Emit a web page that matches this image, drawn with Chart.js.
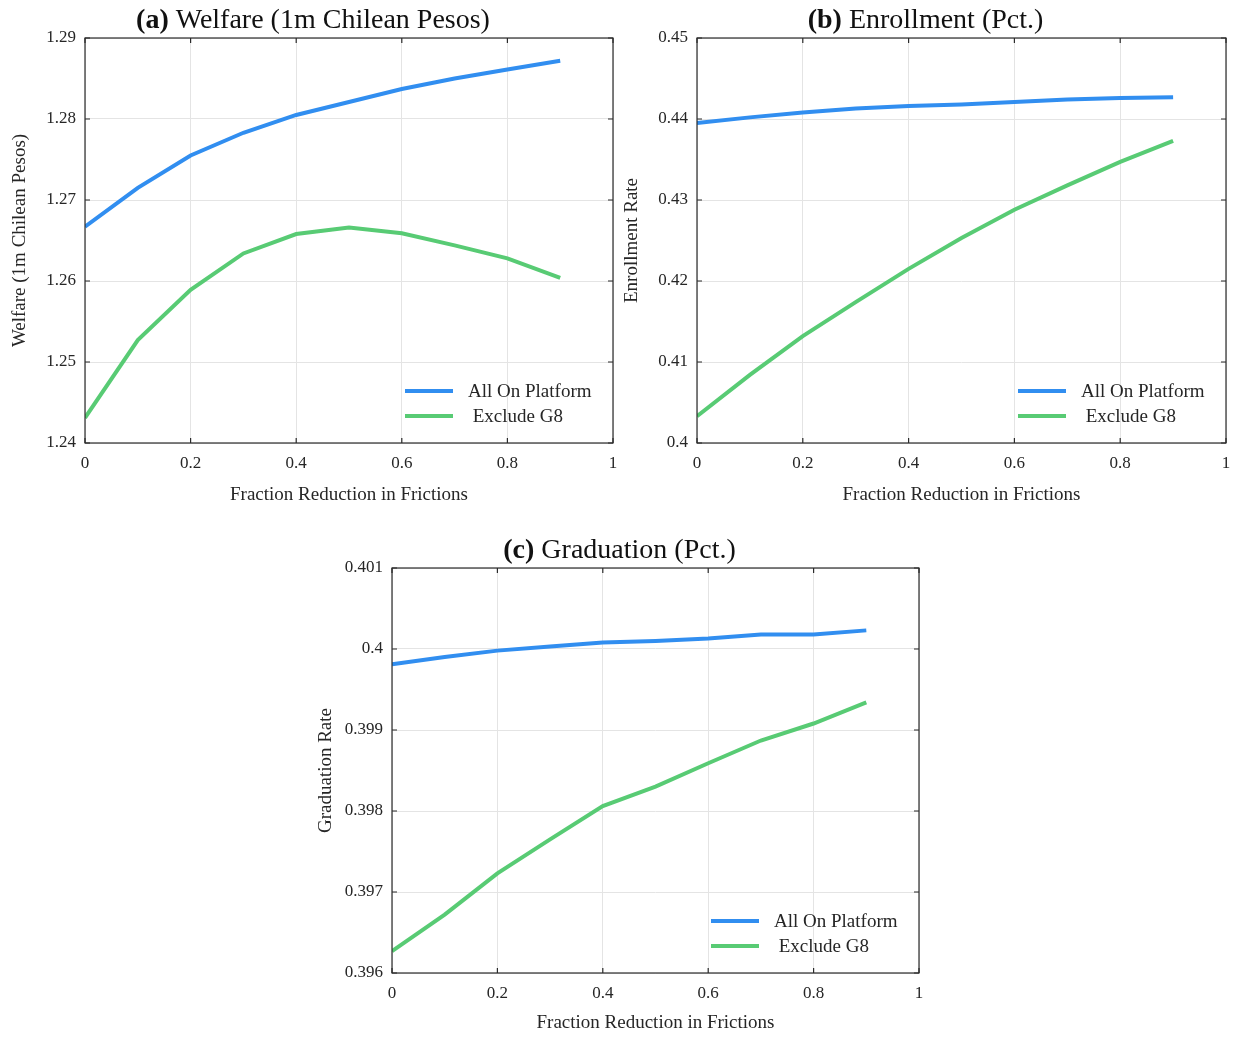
<!DOCTYPE html>
<html>
<head>
<meta charset="utf-8">
<script src="https://cdn.jsdelivr.net/npm/chart.js@4"></script>
<style>
  body { margin:0; background:#fff; }
  .panel { position:absolute; }
</style>
</head>
<body>
<div class="panel" style="left:0;top:0;width:620px;height:510px"><canvas id="welfareChart"></canvas></div>
<div class="panel" style="left:620px;top:0;width:619px;height:510px"><canvas id="enrollChart"></canvas></div>
<div class="panel" style="left:300px;top:530px;width:640px;height:508px"><canvas id="gradChart"></canvas></div>
<script>
// ---- data ----
const FRACTION = [0, 0.1, 0.2, 0.3, 0.4, 0.5, 0.6, 0.7, 0.8, 0.9];
const SERIES_LABELS = ['All On Platform', ' Exclude G8'];
const X_TICKS = [0, 0.2, 0.4, 0.6, 0.8, 1];

const WELFARE_ALL  = [1.2667, 1.2715, 1.2755, 1.2783, 1.2805, 1.2821, 1.2837, 1.2850, 1.2861, 1.2872];
const WELFARE_EXCL = [1.2431, 1.2527, 1.2589, 1.2634, 1.2658, 1.2666, 1.2659, 1.2644, 1.2628, 1.2604];
const WELFARE_TICKS = [1.24, 1.25, 1.26, 1.27, 1.28, 1.29];

const ENROLL_ALL  = [0.4395, 0.4402, 0.4408, 0.4413, 0.4416, 0.4418, 0.4421, 0.4424, 0.4426, 0.4427];
const ENROLL_EXCL = [0.4033, 0.4084, 0.4132, 0.4174, 0.4215, 0.4253, 0.4288, 0.4318, 0.4347, 0.4373];
const ENROLL_TICKS = [0.40, 0.41, 0.42, 0.43, 0.44, 0.45];

const GRAD_ALL  = [0.39981, 0.39990, 0.39998, 0.40003, 0.40008, 0.40010, 0.40013, 0.40018, 0.40018, 0.40023];
const GRAD_EXCL = [0.39627, 0.39672, 0.39723, 0.39765, 0.39806, 0.39830, 0.39859, 0.39887, 0.39908, 0.39934];
const GRAD_TICKS = [0.396, 0.397, 0.398, 0.399, 0.400, 0.401];

const BLUE = '#318ef0';
const GREEN = '#58cb74';
const INK = '#262626';
const FONT = "'Liberation Serif', serif";

// box round the plot with short inward ticks (matlab style)
const framePlugin = {
  id: 'frame',
  afterDraw(chart) {
    const { ctx, chartArea: a, scales } = chart;
    ctx.save();
    ctx.strokeStyle = '#2b2b2b';
    ctx.lineWidth = 1.2;
    ctx.strokeRect(a.left, a.top, a.right - a.left, a.bottom - a.top);
    ctx.beginPath();
    scales.x.ticks.forEach(t => {
      const px = scales.x.getPixelForValue(t.value);
      ctx.moveTo(px, a.bottom); ctx.lineTo(px, a.bottom - 5);
      ctx.moveTo(px, a.top); ctx.lineTo(px, a.top + 5);
    });
    scales.y.ticks.forEach(t => {
      const py = scales.y.getPixelForValue(t.value);
      ctx.moveTo(a.left, py); ctx.lineTo(a.left + 5, py);
      ctx.moveTo(a.right, py); ctx.lineTo(a.right - 5, py);
    });
    ctx.stroke();
    ctx.restore();
  }
};

// title with bold panel letter
const titlePlugin = {
  id: 'panelTitle',
  afterDraw(chart, args, opts) {
    const { ctx, chartArea: a } = chart;
    ctx.save();
    ctx.fillStyle = '#111';
    ctx.textBaseline = 'middle';
    ctx.font = `bold 28px ${FONT}`;
    const w1 = ctx.measureText(opts.tag + ' ').width;
    ctx.font = `28px ${FONT}`;
    const w2 = ctx.measureText(opts.text).width;
    let x = (a.left + a.right) / 2 - 36 - (w1 + w2) / 2;
    ctx.textAlign = 'left';
    ctx.font = `bold 28px ${FONT}`;
    ctx.fillText(opts.tag + ' ', x, 21);
    ctx.font = `28px ${FONT}`;
    ctx.fillText(opts.text, x + w1, 21);
    ctx.restore();
  }
};

// legend drawn inside lower right corner, no box
const legendPlugin = {
  id: 'cornerLegend',
  afterDraw(chart) {
    const { ctx, chartArea: a } = chart;
    ctx.save();
    ctx.font = `19px ${FONT}`;
    ctx.textBaseline = 'middle';
    ctx.fillStyle = INK;
    chart.data.datasets.forEach((ds, i) => {
      const y = a.bottom - 52 + i * 25;
      ctx.strokeStyle = ds.borderColor;
      ctx.lineWidth = 4;
      ctx.beginPath();
      ctx.moveTo(a.right - 208, y); ctx.lineTo(a.right - 160, y);
      ctx.stroke();
      ctx.fillText(ds.label, a.right - 145, y + 1);
    });
    ctx.restore();
  }
};

function makePanel(id, opts) {
  const ctx = document.getElementById(id).getContext('2d');
  const pts = arr => FRACTION.map((f, i) => ({ x: f, y: arr[i] }));
  return new Chart(ctx, {
    type: 'line',
    data: {
      datasets: [
        { label: SERIES_LABELS[0], data: pts(opts.all), borderColor: BLUE, borderWidth: 4, pointRadius: 0, tension: 0 },
        { label: SERIES_LABELS[1], data: pts(opts.excl), borderColor: GREEN, borderWidth: 4, pointRadius: 0, tension: 0 }
      ]
    },
    options: {
      responsive: true,
      maintainAspectRatio: false,
      animation: false,
      layout: { padding: { top: 38, right: opts.padRight, bottom: 0, left: 0 } },
      plugins: {
        legend: { display: false },
        tooltip: { enabled: false },
        panelTitle: { tag: opts.tag, text: opts.title }
      },
      scales: {
        x: {
          type: 'linear', min: 0, max: 1,
          afterBuildTicks: s => { s.ticks = X_TICKS.map(v => ({ value: v })); },
          afterFit: s => { s.height = opts.xHeight; s.paddingLeft = 0; s.paddingRight = 0; },
          grid: { color: '#e4e4e4', drawTicks: false },
          border: { display: false },
          ticks: { color: INK, font: { family: FONT, size: 17 }, padding: 10, maxRotation: 0,
                   callback: v => String(+v.toFixed(3)) },
          title: { display: true, text: 'Fraction Reduction in Frictions', color: INK,
                   font: { family: FONT, size: 19 }, padding: { bottom: 3.5 } }
        },
        y: {
          type: 'linear', min: opts.ticks[0], max: opts.ticks[opts.ticks.length - 1],
          afterBuildTicks: s => { s.ticks = opts.ticks.map(v => ({ value: v })); },
          afterFit: s => { s.width = opts.yWidth; s.paddingTop = 0; s.paddingBottom = 0; },
          grid: { color: '#e4e4e4', drawTicks: false },
          border: { display: false },
          ticks: { color: INK, font: { family: FONT, size: 17 }, padding: 9,
                   callback: v => String(+v.toFixed(3)) },
          title: { display: true, text: opts.yTitle, color: INK,
                   font: { family: FONT, size: 19 }, padding: { top: opts.yTitlePad } }
        }
      }
    },
    plugins: [framePlugin, titlePlugin, legendPlugin]
  });
}

makePanel('welfareChart', {
  all: WELFARE_ALL, excl: WELFARE_EXCL, ticks: WELFARE_TICKS,
  tag: '(a)', title: 'Welfare (1m Chilean Pesos)', yTitle: 'Welfare (1m Chilean Pesos)',
  yWidth: 85, padRight: 7, xHeight: 67, yTitlePad: 9
});
makePanel('enrollChart', {
  all: ENROLL_ALL, excl: ENROLL_EXCL, ticks: ENROLL_TICKS,
  tag: '(b)', title: 'Enrollment (Pct.)', yTitle: 'Enrollment Rate',
  yWidth: 77, padRight: 13, xHeight: 67, yTitlePad: 1
});
makePanel('gradChart', {
  all: GRAD_ALL, excl: GRAD_EXCL, ticks: GRAD_TICKS,
  tag: '(c)', title: 'Graduation (Pct.)', yTitle: 'Graduation Rate',
  yWidth: 92, padRight: 21, xHeight: 65, yTitlePad: 15
});
</script>
</body>
</html>
